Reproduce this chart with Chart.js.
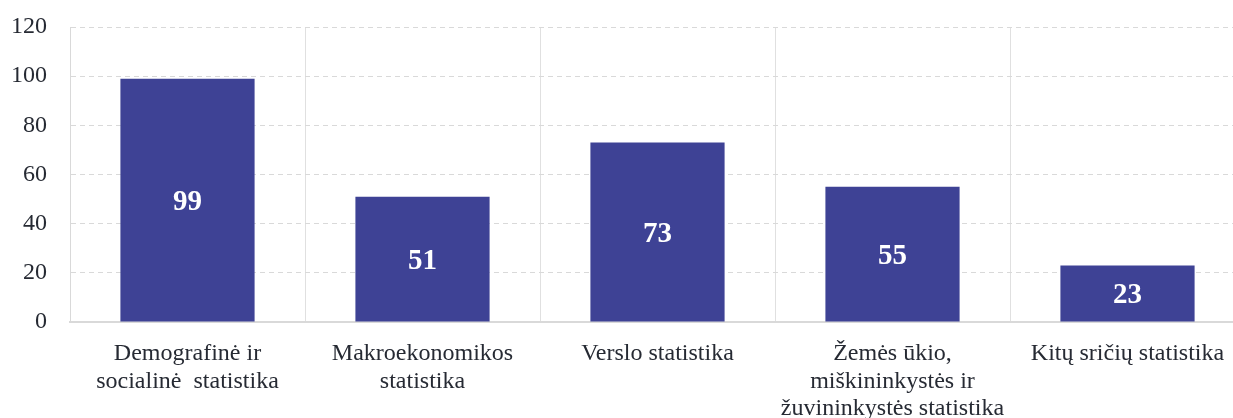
<!DOCTYPE html>
<html>
<head>
<meta charset="utf-8">
<style>
    html, body { margin: 0; padding: 0; background: #fff; overflow: hidden; }
    #wrap { width: 1245px; height: 418px; }
</style>
</head>
<body>
<div id="wrap"><canvas id="chart"></canvas></div>
<script src="https://cdn.jsdelivr.net/npm/chart.js@4/dist/chart.umd.min.js"></script>
<script>
    const categories = [
        ["Demografinė ir", "socialinė  statistika"],
        ["Makroekonomikos", "statistika"],
        "Verslo statistika",
        ["Žemės ūkio,", "miškininkystės ir", "žuvininkystės statistika"],
        "Kitų sričių statistika"
    ];
    const counts = [99, 51, 73, 55, 23];
    const yTicks = [0, 20, 40, 60, 80, 100, 120];

    const textColor = "#262a33";
    const serif = "'Liberation Serif', 'Times New Roman', serif";

    // write the value in the middle of every bar
    const barLabels = {
        id: "barLabels",
        afterDatasetsDraw(chart) {
            const ctx = chart.ctx;
            const meta = chart.getDatasetMeta(0);
            ctx.save();
            ctx.fillStyle = "#ffffff";
            ctx.font = "bold 29px " + serif;
            ctx.textAlign = "center";
            ctx.textBaseline = "middle";
            meta.data.forEach(function (bar, i) {
                const p = bar.getProps(["x", "y", "base"], true);
                ctx.fillText(String(counts[i]), p.x, (p.y + p.base) / 2 + 2);
            });
            ctx.restore();
        }
    };

    new Chart(document.getElementById("chart"), {
        type: "bar",
        data: {
            labels: categories,
            datasets: [{
                data: counts,
                backgroundColor: "#3e4295",
                barPercentage: 0.571,
                categoryPercentage: 1
            }]
        },
        options: {
            responsive: true,
            maintainAspectRatio: false,
            animation: false,
            layout: { padding: { top: 27, left: 0, right: 0, bottom: 0 } },
            plugins: { legend: { display: false }, tooltip: { enabled: false } },
            scales: {
                x: {
                    grid: { color: "#e0e0e0", lineWidth: 1, drawTicks: false, offset: true },
                    border: { color: "#d9d9d9", width: 2 },
                    ticks: {
                        color: textColor,
                        font: { family: serif, size: 24, lineHeight: 1.15 },
                        padding: 18,
                        maxRotation: 0,
                        autoSkip: false
                    },
                    afterFit(scale) { scale.height = 96; }
                },
                y: {
                    min: yTicks[0],
                    max: yTicks[yTicks.length - 1],
                    afterBuildTicks(scale) { scale.ticks = yTicks.map(v => ({ value: v })); },
                    grid: { color: "#d9d9d9", lineWidth: 1, drawTicks: false },
                    border: { color: "#d9d9d9", width: 1, dash: [5, 4] },
                    ticks: {
                        color: textColor,
                        font: { family: serif, size: 24 },
                        padding: 23
                    },
                    afterFit(scale) {
                        scale.width = 70;
                        scale.paddingTop = 0;
                        scale.paddingBottom = 0;
                    }
                }
            }
        },
        plugins: [barLabels]
    });
</script>
</body>
</html>
